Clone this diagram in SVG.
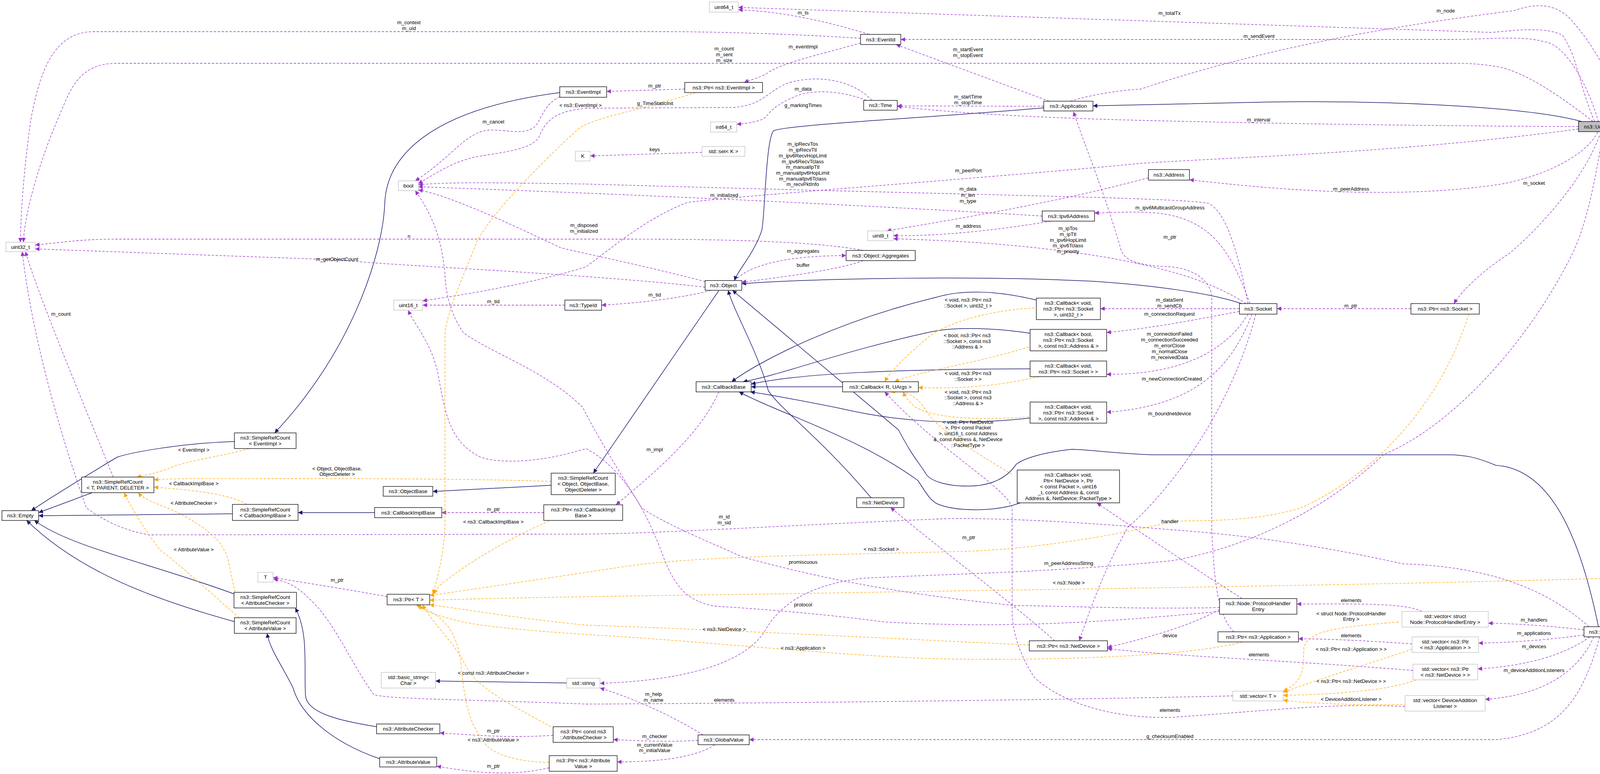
<svg xmlns="http://www.w3.org/2000/svg" width="4420" height="1981" viewBox="0 0 4420 1981">
<style>
.n rect{fill:#fff;stroke:#000;stroke-width:1.3}
.g rect{fill:#fff;stroke:#bfbfbf;stroke-width:1.3}
.c rect{fill:#bfbfbf;stroke:#000;stroke-width:1.3}
text{font-family:"Liberation Sans",Arial,sans-serif;font-size:13.5px;fill:#000;text-anchor:middle}
.l text{font-size:13px}
.i{fill:none;stroke:#191970;stroke-width:1.5;marker-end:url(#ai)}
.u{fill:none;stroke:#9a32cd;stroke-width:1.3;stroke-dasharray:6,4;marker-end:url(#au)}
.t{fill:none;stroke:orange;stroke-width:1.3;stroke-dasharray:6,4;marker-end:url(#at)}
</style>
<defs>
<marker id="ai" viewBox="0 0 10 10" refX="10" refY="5" markerWidth="13" markerHeight="11" markerUnits="userSpaceOnUse" orient="auto"><path d="M0,0 L10,5 L0,10 z" fill="#191970"/></marker>
<marker id="au" viewBox="0 0 10 10" refX="10" refY="5" markerWidth="13" markerHeight="11" markerUnits="userSpaceOnUse" orient="auto"><path d="M0,0 L10,5 L0,10 z" fill="#9a32cd"/></marker>
<marker id="at" viewBox="0 0 10 10" refX="10" refY="5" markerWidth="13" markerHeight="11" markerUnits="userSpaceOnUse" orient="auto"><path d="M0,0 L10,5 L0,10 z" fill="orange"/></marker>
</defs>
<rect width="4420" height="1981" fill="#fff"/>
<g id="edges">
<path class="i" d="M4049,311 C3900,270 3500,255 3207,262 C3000,266 2900,268 2798,271"/>
<path class="i" d="M2672,276 C2400,300 2000,320 1980,335 C1960,360 1958,560 1950,590 C1930,650 1890,690 1880,718"/>
<path class="i" d="M1433,237 C1100,280 990,400 985,520 C980,650 900,900 703,1108"/>
<path class="i" d="M1840,744 L1519,1211"/>
<path class="i" d="M1411,1242 L1108,1258"/>
<path class="i" d="M600,1130 C450,1135 330,1160 300,1170 C200,1230 120,1280 80,1307"/>
<path class="i" d="M236,1261 L99,1312"/>
<path class="i" d="M595,1315 L99,1320"/>
<path class="i" d="M959,1312 L763,1312"/>
<path class="i" d="M599,1520 C380,1440 180,1400 88,1332"/>
<path class="i" d="M600,1591 C380,1530 200,1460 68,1332"/>
<path class="i" d="M964,1860 C870,1845 785,1825 782,1780 C778,1700 790,1620 756,1556"/>
<path class="i" d="M972,1942 C850,1900 770,1830 750,1760 C720,1700 690,1660 684,1621"/>
<path class="i" d="M1451,1748 L1115,1743"/>
<path class="i" d="M3178,777 C3100,750 2950,730 2800,720 C2500,705 2100,712 1899,726"/>
<path class="i" d="M2653,768 C2560,745 2470,740 2400,760 C2150,820 1950,920 1873,977"/>
<path class="i" d="M2637,853 C2550,840 2450,835 2380,850 C2150,900 2000,960 1902,977"/>
<path class="i" d="M2637,944 C2300,945 2050,955 1923,983"/>
<path class="i" d="M2157,990 L1923,990"/>
<path class="i" d="M2637,1070 C2450,1090 2300,1080 2150,1045 C2050,1025 1970,1010 1921,1003"/>
<path class="i" d="M2612,1287 C2550,1310 2450,1310 2400,1290 C2380,1280 2370,1260 2350,1230 C2200,1120 2000,1060 1892,1003"/>
<path class="i" d="M2230,1274 C2100,1120 2000,1050 1967,1000 C1940,900 1880,800 1864,743"/>
<path class="i" d="M4092,1604 C4050,1400 3980,1200 3829,1191 C3780,1170 3750,1164 3705,1164 L2949,1164 C2850,1160 2780,1150 2744,1150 C2650,1160 2610,1180 2600,1190 C2580,1220 2540,1245 2476,1244 C2420,1244 2380,1230 2370,1212 C2350,1180 2340,1175 2300,1100 L1875,743"/>

<path class="u" d="M4082,311 C4040,210 4040,150 4000,90 C3960,70 3900,75 3820,83 L1890,19"/>
<path class="u" d="M4092,312 C4060,200 4000,110 3953,107 C3900,90 3800,101 3724,101 L2306,101"/>
<path class="u" d="M4078,311 C4000,250 3900,180 3829,170 C3780,162 3750,162 3704,162 L300,162 C200,162 180,230 150,300 C90,440 62,560 60,620"/>
<path class="u" d="M2203,98 C2000,85 1800,81 1700,81 L240,81 C130,81 100,200 80,300 C65,400 54,520 52,620"/>
<path class="u" d="M2740,259 C2800,240 2880,230 2920,228 C3300,100 3700,50 3877,27 C3940,5 3990,10 4030,60 C4150,200 4200,400 4260,700 L4322,1463"/>
<path class="u" d="M4041,324 C3600,322 3200,315 2920,308 C2600,300 2400,285 2297,272"/>
<path class="u" d="M4041,330 C3600,390 3200,400 2920,418 C2600,450 1900,500 1760,518 C1650,560 1560,640 1500,683 C1350,730 1150,760 1082,770"/>
<path class="u" d="M4090,338 C4060,400 3950,450 3850,470 C3600,510 3300,490 3045,460"/>
<path class="u" d="M4098,338 C4050,480 3900,620 3862,650 C3800,690 3745,740 3722,777"/>
<path class="u" d="M4103,338 C4080,500 4050,600 4025,650 C3900,900 3700,1100 3542,1163 C3400,1300 3200,1400 3000,1435 C2700,1465 2400,1470 2208,1480 C2050,1500 1990,1560 1959,1613 C1920,1680 1800,1740 1536,1749"/>
<path class="u" d="M2686,259 L2294,114"/>
<path class="u" d="M2672,272 L2297,271"/>
<path class="u" d="M2218,257 C2150,230 2080,230 2040,245 C1980,270 1968,290 1960,300 C1945,312 1910,316 1886,318"/>
<path class="u" d="M2232,257 C2180,200 2080,190 2010,215 C1960,240 1950,268 1880,275 L1500,277 C1430,285 1400,300 1380,350 C1360,385 1280,390 1215,402 C1160,415 1120,440 1071,470"/>
<path class="u" d="M1433,248 C1390,268 1385,310 1368,325 C1340,348 1290,330 1250,333 C1190,340 1160,400 1063,463"/>
<path class="u" d="M2203,110 C2100,140 2000,160 1960,190 C1940,200 1920,205 1905,211"/>
<path class="u" d="M1753,228 L1553,234"/>
<path class="u" d="M2225,88 C2100,50 2000,30 1890,25"/>
<path class="u" d="M1797,390 L1511,399"/>
<path class="u" d="M1806,721 C1650,680 1500,650 1435,634 C1300,570 1150,500 1071,486"/>
<path class="u" d="M2210,641 C2100,620 1900,612 1600,612 L300,612 C200,612 150,622 90,627"/>
<path class="u" d="M1805,735 C1500,700 1000,680 863,665 L90,637"/>
<path class="u" d="M1820,743 C1760,760 1650,775 1540,781"/>
<path class="u" d="M1880,718 C1920,680 2000,655 2166,654"/>
<path class="u" d="M2210,667 C2150,690 2000,710 1899,722"/>
<path class="u" d="M1446,781 L1082,781"/>
<path class="u" d="M1840,1003 C1790,1120 1650,1230 1577,1292"/>
<path class="u" d="M1392,1312 L1131,1312"/>
<path class="u" d="M290,1221 C200,1000 100,760 65,644"/>
<path class="u" d="M4068,1604 C3950,1500 3800,1450 3590,1443 C3400,1400 3200,1370 3000,1356 C2700,1330 2500,1325 2409,1328 C2000,1345 1700,1365 1500,1367 L383,1369 C300,1355 250,1320 221,1300 C150,1100 80,850 57,644"/>
<path class="u" d="M3173,790 L2817,790"/>
<path class="u" d="M3173,797 C3050,820 2950,840 2833,851"/>
<path class="u" d="M3195,804 C3150,880 3050,960 2833,958"/>
<path class="u" d="M3205,804 C3150,950 3050,1040 2833,1055"/>
<path class="u" d="M3215,804 C3150,1050 3000,1250 2887,1350 C2830,1450 2790,1560 2763,1640"/>
<path class="u" d="M3190,777 C3100,720 3000,690 2840,660 C2600,620 2400,615 2287,611"/>
<path class="u" d="M3200,777 C3150,640 3100,560 2960,545 C2900,540 2850,545 2802,545"/>
<path class="u" d="M3195,777 C3170,650 3140,540 3092,520 C3000,505 2500,500 1500,471 C1300,468 1150,465 1071,473"/>
<path class="u" d="M2668,553 C2300,530 1700,500 1071,478"/>
<path class="u" d="M2690,566 C2550,590 2400,605 2287,603"/>
<path class="u" d="M2940,455 C2700,520 2450,560 2270,591"/>
<path class="u" d="M3612,790 L3269,790"/>
<path class="u" d="M3159,1617 C3120,1580 3108,1500 3102,1350 L3102,760 C3100,720 3060,690 3000,683 C2920,680 2880,670 2870,640 C2830,500 2780,380 2748,286"/>
<path class="u" d="M3180,1532 C3050,1450 2900,1350 2808,1287"/>
<path class="u" d="M3122,1560 C3050,1600 2950,1630 2835,1657"/>
<path class="u" d="M3122,1555 C2900,1560 2700,1550 2600,1550 C2300,1520 2100,1480 1902,1426 C1800,1380 1700,1340 1643,1300 C1580,1200 1520,1100 1492,1043 C1400,950 1250,900 1186,851 C1150,800 1140,740 1139,700 C1130,600 1100,540 1063,488"/>
<path class="u" d="M3122,1565 C2850,1590 2600,1610 2266,1592 C2100,1570 1900,1555 1835,1552 C1760,1540 1730,1504 1700,1430 C1660,1320 1600,1200 1500,1148 C1400,1180 1290,1190 1230,1170 C1150,1130 1140,1060 1120,950 C1100,870 1060,830 1045,794"/>
<path class="u" d="M2700,1640 C2600,1550 2400,1400 2280,1299"/>
<path class="u" d="M991,1527 C900,1510 800,1495 699,1478"/>
<path class="u" d="M1416,1882 C1300,1890 1200,1880 1126,1876"/>
<path class="u" d="M1406,1965 C1300,1990 1200,1975 1118,1961"/>
<path class="u" d="M1800,1881 C1700,1820 1600,1780 1536,1761"/>
<path class="u" d="M1787,1895 C1700,1900 1620,1895 1570,1893"/>
<path class="u" d="M1830,1906 C1780,1940 1680,1950 1580,1950"/>
<path class="u" d="M4095,1630 C4050,1800 3980,1880 3830,1893 L1918,1893"/>
<path class="u" d="M3156,1781 C2800,1790 2000,1800 1500,1802 C1200,1790 1000,1790 957,1778 C900,1700 860,1600 800,1540 C760,1500 740,1490 700,1482"/>
<path class="u" d="M3617,1716 C3300,1690 3000,1680 2835,1660"/>
<path class="u" d="M3615,1648 C3500,1640 3400,1635 3324,1635"/>
<path class="u" d="M3640,1565 C3600,1545 3500,1545 3320,1546"/>
<path class="u" d="M4055,1612 C3950,1600 3850,1595 3810,1595"/>
<path class="u" d="M4055,1625 C3950,1640 3850,1645 3785,1646"/>
<path class="u" d="M4070,1630 C4000,1680 3900,1705 3783,1712"/>
<path class="u" d="M4080,1630 C4040,1720 3950,1780 3802,1790"/>
<path class="u" d="M4300,1489 C4230,1540 4160,1580 4125,1604"/>
<path class="u" d="M3597,1808 C3400,1800 3300,1815 3000,1836 C2850,1840 2720,1800 2648,1734 C2600,1660 2591,1600 2591,1561 L2591,1300 C2580,1250 2400,1150 2265,1003"/>

<path class="t" d="M1780,237 C1650,280 1520,300 1480,330 C1350,450 1250,560 1220,620 C1190,700 1150,780 1139,850 L1139,1350 C1136,1420 1120,1480 1108,1521"/>
<path class="t" d="M1406,1333 C1300,1380 1200,1440 1150,1480 C1120,1500 1115,1510 1112,1521"/>
<path class="t" d="M3760,804 C3700,1000 3550,1200 3330,1300 C3200,1340 3050,1330 3000,1335 C2900,1360 2700,1400 2500,1410 C2200,1420 1800,1420 1600,1450 C1400,1480 1200,1510 1100,1524"/>
<path class="t" d="M4248,1476 C3500,1500 2500,1510 2000,1520 C1600,1525 1300,1530 1100,1536"/>
<path class="t" d="M2635,1651 C2200,1630 1800,1610 1500,1600 C1300,1580 1200,1560 1100,1548"/>
<path class="t" d="M3180,1643 C3050,1680 2700,1690 2457,1687 C2200,1685 1800,1640 1500,1624 C1300,1610 1200,1600 1140,1580 C1100,1570 1080,1560 1075,1548"/>
<path class="t" d="M1411,1860 C1300,1800 1220,1760 1190,1700 C1160,1640 1110,1600 1082,1548"/>
<path class="t" d="M1406,1951 C1300,1950 1250,1920 1240,1900 C1200,1850 1190,1800 1180,1700 C1170,1600 1120,1570 1065,1548"/>
<path class="t" d="M638,1148 C560,1170 470,1180 430,1200 C400,1210 370,1218 350,1221"/>
<path class="t" d="M1411,1232 C1200,1225 900,1225 700,1225 C550,1225 450,1224 394,1228"/>
<path class="t" d="M631,1291 C600,1270 520,1255 394,1247"/>
<path class="t" d="M602,1516 C590,1470 585,1420 574,1409 C560,1370 480,1320 421,1297 C390,1285 365,1275 354,1261"/>
<path class="t" d="M612,1581 C520,1500 430,1420 411,1409 C380,1370 335,1300 318,1261"/>
<path class="t" d="M2648,788 C2520,795 2420,830 2380,860 C2320,910 2280,950 2265,977"/>
<path class="t" d="M2634,888 C2500,930 2350,950 2290,977"/>
<path class="t" d="M2660,964 C2550,990 2450,995 2351,992"/>
<path class="t" d="M2634,1067 C2450,1080 2370,1060 2340,1040 C2320,1020 2315,1010 2313,1003"/>
<path class="t" d="M2591,1214 C2500,1160 2400,1100 2370,1050 C2340,1000 2300,1000 2280,1003"/>
<path class="t" d="M3580,1592 C3420,1605 3345,1615 3338,1660 C3335,1700 3345,1740 3285,1769"/>
<path class="t" d="M3615,1662 C3500,1700 3400,1730 3285,1772"/>
<path class="t" d="M3625,1740 C3550,1770 3400,1777 3285,1780"/>
<path class="t" d="M3600,1803 C3450,1805 3350,1800 3285,1792"/>
</g>
<g id="labels" class="l">
<text x="1047" y="62">m_context</text><text x="1047" y="77">m_uid</text>
<text x="1854" y="129">m_count</text><text x="1854" y="144">m_sent</text><text x="1854" y="159">m_size</text>
<text x="2056" y="37">m_ts</text>
<text x="2994" y="38">m_totalTx</text>
<text x="3701" y="32">m_node</text>
<text x="2056" y="124">m_eventImpl</text>
<text x="2478" y="131">m_startEvent</text><text x="2478" y="146">m_stopEvent</text>
<text x="3223" y="97">m_sendEvent</text>
<text x="1676" y="224">m_ptr</text>
<text x="2056" y="232">m_data</text>
<text x="1677" y="269">g_TimeStaticInit</text>
<text x="2056" y="274">g_markingTimes</text>
<text x="1432" y="274" style="text-anchor:start">&lt; ns3::EventImpl &gt;</text>
<text x="2478" y="252">m_startTime</text><text x="2478" y="267">m_stopTime</text>
<text x="3222" y="311">m_interval</text>
<text x="1263" y="316">m_cancel</text>
<text x="1676" y="387">keys</text>
<text x="2055" y="373">m_ipRecvTos</text><text x="2055" y="388">m_ipRecvTtl</text><text x="2055" y="403">m_ipv6RecvHopLimit</text><text x="2055" y="418">m_ipv6RecvTclass</text><text x="2055" y="432">m_manualIpTtl</text><text x="2055" y="447">m_manualIpv6HopLimit</text><text x="2055" y="462">m_manualIpv6Tclass</text><text x="2055" y="476">m_recvPktInfo</text>
<text x="2479" y="441">m_peerPort</text>
<text x="3927" y="473">m_socket</text>
<text x="3459" y="488">m_peerAddress</text>
<text x="2478" y="488">m_data</text><text x="2478" y="504">m_len</text><text x="2478" y="519">m_type</text>
<text x="1854" y="504">m_initialized</text>
<text x="2995" y="536">m_ipv6MulticastGroupAddress</text>
<text x="2479" y="583">m_address</text>
<text x="1495" y="581">m_disposed</text><text x="1495" y="596">m_initialized</text>
<text x="2734" y="589">m_ipTos</text><text x="2734" y="604">m_ipTtl</text><text x="2734" y="619">m_ipv6HopLimit</text><text x="2734" y="633">m_ipv6Tclass</text><text x="2734" y="648">m_priority</text>
<text x="1047" y="609">n</text>
<text x="2995" y="611">m_ptr</text>
<text x="2056" y="647">m_aggregates</text>
<text x="863" y="668">m_getObjectCount</text>
<text x="2056" y="683">buffer</text>
<text x="1676" y="759">m_tid</text>
<text x="2994" y="772">m_dataSent</text><text x="2994" y="787">m_sendCb</text>
<text x="2478" y="772">&lt; void, ns3::Ptr&lt; ns3</text><text x="2478" y="787">::Socket &gt;, uint32_t &gt;</text>
<text x="1263" y="776">m_tid</text>
<text x="3458" y="787">m_ptr</text>
<text x="156" y="808">m_count</text>
<text x="2994" y="808">m_connectionRequest</text>
<text x="2476" y="863">&lt; bool, ns3::Ptr&lt; ns3</text><text x="2476" y="878">::Socket &gt;, const ns3</text><text x="2476" y="892">::Address &amp; &gt;</text>
<text x="2994" y="859">m_connectionFailed</text><text x="2994" y="874">m_connectionSucceeded</text><text x="2994" y="889">m_errorClose</text><text x="2994" y="904">m_normalClose</text><text x="2994" y="919">m_receivedData</text>
<text x="2478" y="960">&lt; void, ns3::Ptr&lt; ns3</text><text x="2478" y="975">::Socket &gt; &gt;</text>
<text x="3000" y="974">m_newConnectionCreated</text>
<text x="2478" y="1008">&lt; void, ns3::Ptr&lt; ns3</text><text x="2478" y="1022">::Socket &gt;, const ns3</text><text x="2478" y="1037">::Address &amp; &gt;</text>
<text x="2994" y="1063">m_boundnetdevice</text>
<text x="2478" y="1085">&lt; void, Ptr&lt; NetDevice</text><text x="2478" y="1099">&gt;, Ptr&lt; const Packet</text><text x="2478" y="1114">&gt;, uint16_t, const Address</text><text x="2478" y="1129">&amp;, const Address &amp;, NetDevice</text><text x="2478" y="1144">::PacketType &gt;</text>
<text x="1676" y="1155">m_impl</text>
<text x="496" y="1156">&lt; EventImpl &gt;</text>
<text x="863" y="1204">&lt; Object, ObjectBase,</text><text x="863" y="1218">ObjectDeleter &gt;</text>
<text x="496" y="1242">&lt; CallbackImplBase &gt;</text>
<text x="496" y="1292">&lt; AttributeChecker &gt;</text>
<text x="1263" y="1308">m_ptr</text>
<text x="1854" y="1327">m_id</text><text x="1854" y="1342">m_sid</text>
<text x="2995" y="1339">handler</text>
<text x="1263" y="1340">&lt; ns3::CallbackImplBase &gt;</text>
<text x="2480" y="1380">m_ptr</text>
<text x="2256" y="1410">&lt; ns3::Socket &gt;</text>
<text x="496" y="1411">&lt; AttributeValue &gt;</text>
<text x="2056" y="1443">promiscuous</text>
<text x="2736" y="1446">m_peerAddressString</text>
<text x="863" y="1489">m_ptr</text>
<text x="2736" y="1496">&lt; ns3::Node &gt;</text>
<text x="4204" y="1537">m_ptr</text>
<text x="3459" y="1541">elements</text>
<text x="2056" y="1552">protocol</text>
<text x="3459" y="1575">&lt; struct Node::ProtocolHandler</text><text x="3459" y="1589">Entry &gt;</text>
<text x="3927" y="1591">m_handlers</text>
<text x="1854" y="1615">&lt; ns3::NetDevice &gt;</text>
<text x="3927" y="1625">m_applications</text>
<text x="3459" y="1631">elements</text>
<text x="2995" y="1631">device</text>
<text x="3927" y="1659">m_devices</text>
<text x="2056" y="1663">&lt; ns3::Application &gt;</text>
<text x="3459" y="1666">&lt; ns3::Ptr&lt; ns3::Application &gt; &gt;</text>
<text x="3223" y="1680">elements</text>
<text x="3927" y="1720">m_deviceAdditionListeners</text>
<text x="1263" y="1727">&lt; const ns3::AttributeChecker &gt;</text>
<text x="3459" y="1748">&lt; ns3::Ptr&lt; ns3::NetDevice &gt; &gt;</text>
<text x="1673" y="1781">m_help</text><text x="1673" y="1796">m_name</text>
<text x="1854" y="1796">elements</text>
<text x="3459" y="1794">&lt; DeviceAdditionListener &gt;</text>
<text x="2995" y="1822">elements</text>
<text x="1263" y="1875">m_ptr</text>
<text x="1676" y="1889">m_checker</text>
<text x="2995" y="1889">g_checksumEnabled</text>
<text x="1263" y="1898">&lt; ns3::AttributeValue &gt;</text>
<text x="1676" y="1911">m_currentValue</text><text x="1676" y="1925">m_initialValue</text>
<text x="1263" y="1965">m_ptr</text>
</g>
<g id="n_uint64" class="g"><rect x="1816" y="5" width="74" height="26"/><text x="1853" y="22.5">uint64_t</text></g>
<g id="n_EventId" class="n"><rect x="2203" y="88" width="103" height="26"/><text x="2254.5" y="105.5">ns3::EventId</text></g>
<g id="n_EventImpl" class="n"><rect x="1433" y="222" width="120" height="27"/><text x="1493" y="240">ns3::EventImpl</text></g>
<g id="n_PtrEventImpl" class="n"><rect x="1753" y="211" width="199" height="26"/><text x="1852.5" y="228.5">ns3::Ptr&lt; ns3::EventImpl &gt;</text></g>
<g id="n_Time" class="n"><rect x="2211" y="257" width="86" height="25"/><text x="2254" y="274">ns3::Time</text></g>
<g id="n_Application" class="n"><rect x="2672" y="259" width="126" height="25"/><text x="2735" y="276">ns3::Application</text></g>
<g id="n_UdpClient" class="c"><rect x="4041" y="311" width="116" height="26"/><text x="4099" y="328.5">ns3::UdpClient</text></g>
<g id="n_int64" class="g"><rect x="1819" y="312" width="67" height="26"/><text x="1852.5" y="329.5">int64_t</text></g>
<g id="n_K" class="g"><rect x="1473" y="387" width="38" height="25"/><text x="1492" y="404">K</text></g>
<g id="n_setK" class="g"><rect x="1797" y="375" width="110" height="25"/><text x="1852" y="392">std::set&lt; K &gt;</text></g>
<g id="n_bool" class="g"><rect x="1020" y="463" width="51" height="25"/><text x="1045.5" y="480">bool</text></g>
<g id="n_Address" class="n"><rect x="2940" y="434" width="105" height="27"/><text x="2992.5" y="452">ns3::Address</text></g>
<g id="n_Ipv6Address" class="n"><rect x="2668" y="540" width="134" height="26"/><text x="2735" y="557.5">ns3::Ipv6Address</text></g>
<g id="n_uint8" class="g"><rect x="2221" y="591" width="66" height="25"/><text x="2254" y="608">uint8_t</text></g>
<g id="n_uint32" class="g"><rect x="15" y="620" width="75" height="24"/><text x="52.5" y="636.5">uint32_t</text></g>
<g id="n_Aggregates" class="n"><rect x="2166" y="641" width="177" height="26"/><text x="2254.5" y="658.5">ns3::Object::Aggregates</text></g>
<g id="n_Object" class="n"><rect x="1805" y="718" width="94" height="25"/><text x="1852" y="735">ns3::Object</text></g>
<g id="n_TypeId" class="n"><rect x="1446" y="768" width="94" height="26"/><text x="1493" y="785.5">ns3::TypeId</text></g>
<g id="n_uint16" class="g"><rect x="1008" y="768" width="74" height="26"/><text x="1045" y="785.5">uint16_t</text></g>
<g id="n_Socket" class="n"><rect x="3173" y="777" width="96" height="27"/><text x="3221" y="795">ns3::Socket</text></g>
<g id="n_PtrSocket" class="n"><rect x="3612" y="777" width="175" height="27"/><text x="3699.5" y="795">ns3::Ptr&lt; ns3::Socket &gt;</text></g>
<g id="n_CbSockU32" class="n"><rect x="2653" y="763" width="164" height="55"/><text x="2735" y="780">ns3::Callback&lt; void,</text><text x="2735" y="795">ns3::Ptr&lt; ns3::Socket</text><text x="2735" y="810">&gt;, uint32_t &gt;</text></g>
<g id="n_CbBool" class="n"><rect x="2637" y="843" width="196" height="55"/><text x="2735" y="860">ns3::Callback&lt; bool,</text><text x="2735" y="875">ns3::Ptr&lt; ns3::Socket</text><text x="2735" y="890">&gt;, const ns3::Address &amp; &gt;</text></g>
<g id="n_CbSock" class="n"><rect x="2637" y="924" width="196" height="40"/><text x="2735" y="941">ns3::Callback&lt; void,</text><text x="2735" y="956">ns3::Ptr&lt; ns3::Socket &gt; &gt;</text></g>
<g id="n_CallbackBase" class="n"><rect x="1782" y="977" width="141" height="26"/><text x="1852.5" y="994.5">ns3::CallbackBase</text></g>
<g id="n_CbRU" class="n"><rect x="2157" y="977" width="194" height="26"/><text x="2254" y="994.5">ns3::Callback&lt; R, UArgs &gt;</text></g>
<g id="n_CbSockAddr" class="n"><rect x="2637" y="1029" width="196" height="54"/><text x="2735" y="1045.5">ns3::Callback&lt; void,</text><text x="2735" y="1060.5">ns3::Ptr&lt; ns3::Socket</text><text x="2735" y="1075.5">&gt;, const ns3::Address &amp; &gt;</text></g>
<g id="n_SRCEventImpl" class="n"><rect x="600" y="1108" width="158" height="40"/><text x="679" y="1125">ns3::SimpleRefCount</text><text x="679" y="1140">&lt; EventImpl &gt;</text></g>
<g id="n_SRCObject" class="n"><rect x="1411" y="1211" width="164" height="55"/><text x="1493" y="1228">ns3::SimpleRefCount</text><text x="1493" y="1243">&lt; Object, ObjectBase,</text><text x="1493" y="1258">ObjectDeleter &gt;</text></g>
<g id="n_SRCT" class="n"><rect x="209" y="1221" width="185" height="40"/><text x="301.5" y="1238">ns3::SimpleRefCount</text><text x="301.5" y="1253">&lt; T, PARENT, DELETER &gt;</text></g>
<g id="n_CbNetDev" class="n"><rect x="2604" y="1203" width="262" height="84"/><text x="2735" y="1219.5">ns3::Callback&lt; void,</text><text x="2735" y="1234.5">Ptr&lt; NetDevice &gt;, Ptr</text><text x="2735" y="1249.5">&lt; const Packet &gt;, uint16</text><text x="2735" y="1264.5">_t, const Address &amp;, const</text><text x="2735" y="1279.5">Address &amp;, NetDevice::PacketType &gt;</text></g>
<g id="n_ObjectBase" class="n"><rect x="981" y="1245" width="127" height="25"/><text x="1044.5" y="1262">ns3::ObjectBase</text></g>
<g id="n_NetDevice" class="n"><rect x="2193" y="1274" width="121" height="25"/><text x="2253.5" y="1291">ns3::NetDevice</text></g>
<g id="n_SRCCBI" class="n"><rect x="595" y="1291" width="168" height="41"/><text x="679" y="1308.5">ns3::SimpleRefCount</text><text x="679" y="1323.5">&lt; CallbackImplBase &gt;</text></g>
<g id="n_PtrCBI" class="n"><rect x="1392" y="1292" width="202" height="40"/><text x="1493" y="1309">ns3::Ptr&lt; ns3::CallbackImpl</text><text x="1493" y="1324">Base &gt;</text></g>
<g id="n_CallbackImplBase" class="n"><rect x="959" y="1299" width="172" height="26"/><text x="1045" y="1316.5">ns3::CallbackImplBase</text></g>
<g id="n_Empty" class="n"><rect x="5" y="1307" width="94" height="25"/><text x="52" y="1324">ns3::Empty</text></g>
<g id="n_PtrNode" class="n"><rect x="4248" y="1463" width="167" height="26"/><text x="4331.5" y="1480.5">ns3::Ptr&lt; ns3::Node &gt;</text></g>
<g id="n_T" class="g"><rect x="660" y="1465" width="39" height="25"/><text x="679.5" y="1482">T</text></g>
<g id="n_PtrT" class="n"><rect x="991" y="1521" width="109" height="27"/><text x="1045.5" y="1539">ns3::Ptr&lt; T &gt;</text></g>
<g id="n_SRCAC" class="n"><rect x="599" y="1516" width="160" height="40"/><text x="679" y="1533">ns3::SimpleRefCount</text><text x="679" y="1548">&lt; AttributeChecker &gt;</text></g>
<g id="n_PHE" class="n"><rect x="3122" y="1532" width="198" height="40"/><text x="3221" y="1549">ns3::Node::ProtocolHandler</text><text x="3221" y="1564">Entry</text></g>
<g id="n_vecPHE" class="g"><rect x="3589" y="1565" width="221" height="40"/><text x="3699.5" y="1582">std::vector&lt; struct</text><text x="3699.5" y="1597">Node::ProtocolHandlerEntry &gt;</text></g>
<g id="n_SRCAV" class="n"><rect x="600" y="1581" width="158" height="40"/><text x="679" y="1598">ns3::SimpleRefCount</text><text x="679" y="1613">&lt; AttributeValue &gt;</text></g>
<g id="n_Node" class="n"><rect x="4055" y="1604" width="87" height="26"/><text x="4098.5" y="1621.5">ns3::Node</text></g>
<g id="n_PtrApp" class="n"><rect x="3118" y="1617" width="206" height="26"/><text x="3221" y="1634.5">ns3::Ptr&lt; ns3::Application &gt;</text></g>
<g id="n_vecApp" class="g"><rect x="3615" y="1630" width="170" height="40"/><text x="3700" y="1647">std::vector&lt; ns3::Ptr</text><text x="3700" y="1662">&lt; ns3::Application &gt; &gt;</text></g>
<g id="n_PtrNetDev" class="n"><rect x="2635" y="1640" width="200" height="26"/><text x="2735" y="1657.5">ns3::Ptr&lt; ns3::NetDevice &gt;</text></g>
<g id="n_vecND" class="g"><rect x="3617" y="1700" width="166" height="40"/><text x="3700" y="1717">std::vector&lt; ns3::Ptr</text><text x="3700" y="1732">&lt; ns3::NetDevice &gt; &gt;</text></g>
<g id="n_basic_string" class="g"><rect x="976" y="1721" width="139" height="40"/><text x="1045.5" y="1738">std::basic_string&lt;</text><text x="1045.5" y="1753">Char &gt;</text></g>
<g id="n_string" class="g"><rect x="1451" y="1736" width="85" height="25"/><text x="1493.5" y="1753">std::string</text></g>
<g id="n_vecT" class="g"><rect x="3156" y="1769" width="129" height="25"/><text x="3220.5" y="1786">std::vector&lt; T &gt;</text></g>
<g id="n_vecDAL" class="g"><rect x="3597" y="1780" width="205" height="40"/><text x="3699.5" y="1797">std::vector&lt; DeviceAddition</text><text x="3699.5" y="1812">Listener &gt;</text></g>
<g id="n_AttributeChecker" class="n"><rect x="964" y="1853" width="162" height="25"/><text x="1045" y="1870">ns3::AttributeChecker</text></g>
<g id="n_PtrAC" class="n"><rect x="1416" y="1860" width="154" height="40"/><text x="1493" y="1877">ns3::Ptr&lt; const ns3</text><text x="1493" y="1892">::AttributeChecker &gt;</text></g>
<g id="n_GlobalValue" class="n"><rect x="1787" y="1881" width="131" height="25"/><text x="1852.5" y="1898">ns3::GlobalValue</text></g>
<g id="n_AttributeValue" class="n"><rect x="972" y="1938" width="146" height="25"/><text x="1045" y="1955">ns3::AttributeValue</text></g>
<g id="n_PtrAV" class="n"><rect x="1406" y="1934" width="174" height="40"/><text x="1493" y="1951">ns3::Ptr&lt; ns3::Attribute</text><text x="1493" y="1966">Value &gt;</text></g>
</svg>
